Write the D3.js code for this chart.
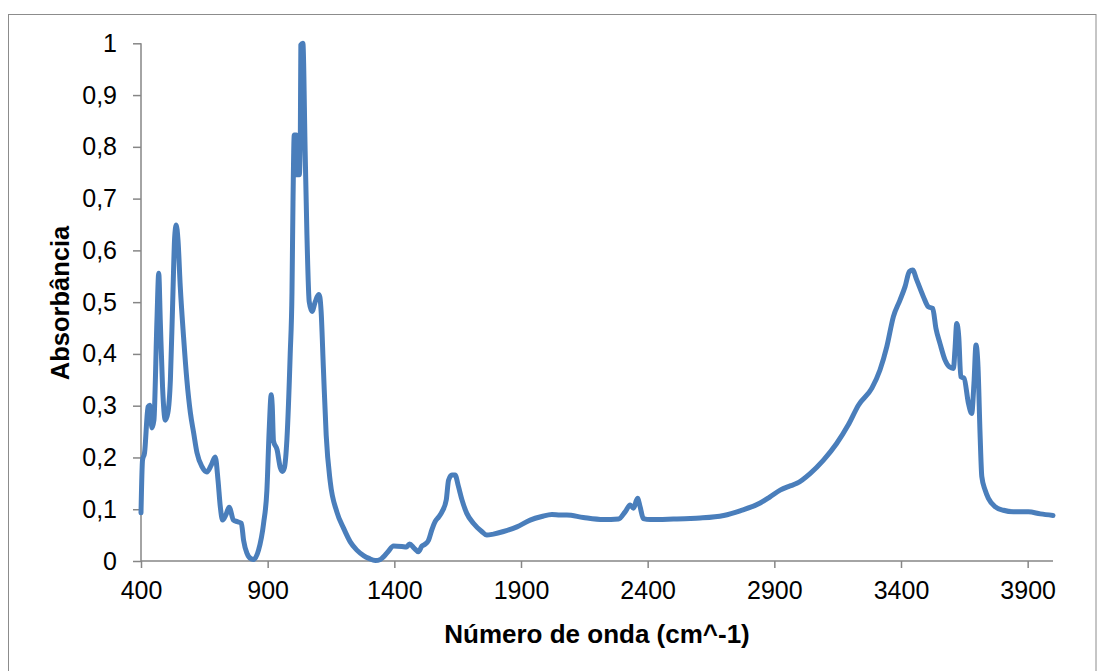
<!DOCTYPE html>
<html>
<head>
<meta charset="utf-8">
<script src="https://cdn.jsdelivr.net/npm/d3@7"></script>
<style>
  html, body { margin: 0; padding: 0; background: #ffffff; }
  svg { display: block; }
  text { font-family: "Liberation Sans", Arial, sans-serif; fill: #000; }
</style>
</head>
<body>
<svg id="chart" width="1097" height="671"></svg>
<script>
// FTIR spectrum: wavenumber (cm^-1) and absorbance
const wavenumber = [
  400, 406, 414, 428, 435, 443, 451, 463, 470, 476, 485, 496, 506, 516, 525, 533, 539, 546, 555, 568,
  581, 595, 608, 621, 641, 660, 677, 693, 704, 713, 722, 735, 748, 765, 780, 796, 805, 818, 835, 845,
  864, 884, 897, 906, 914, 918, 923, 937, 950, 958, 966, 976, 989, 996, 1000, 1005, 1013, 1016, 1025, 1029,
  1031, 1039, 1048, 1055, 1064, 1075, 1088, 1101, 1106, 1111, 1120, 1131, 1147, 1173, 1200, 1226, 1252, 1280, 1300, 1325,
  1345, 1357, 1375, 1397, 1430, 1448, 1460, 1478, 1495, 1509, 1520, 1535, 1548, 1561, 1575, 1588, 1605, 1614, 1627, 1640,
  1653, 1667, 1686, 1712, 1745, 1765, 1791, 1831, 1884, 1936, 1982, 2022, 2055, 2081, 2146, 2225, 2285, 2311, 2331, 2344,
  2360, 2370, 2383, 2410, 2502, 2568, 2607, 2700, 2765, 2844, 2883, 2923, 2962, 2989, 3041, 3094, 3146, 3192, 3232, 3285,
  3317, 3344, 3370, 3396, 3416, 3433, 3446, 3462, 3488, 3508, 3525, 3538, 3554, 3574, 3591, 3607, 3613, 3620, 3628, 3636,
  3649, 3666, 3679, 3688, 3696, 3704, 3712, 3719, 3732, 3745, 3771, 3804, 3844, 3903, 3950, 4000
];
const absorbance = [
  0.093, 0.195, 0.209, 0.298, 0.301, 0.257, 0.272, 0.466, 0.556, 0.466, 0.337, 0.272, 0.286, 0.350, 0.498, 0.626, 0.649, 0.620, 0.530, 0.433,
  0.350, 0.286, 0.247, 0.209, 0.182, 0.172, 0.185, 0.201, 0.156, 0.105, 0.079, 0.089, 0.104, 0.079, 0.076, 0.073, 0.040, 0.015, 0.004, 0.003,
  0.021, 0.073, 0.137, 0.253, 0.321, 0.300, 0.232, 0.215, 0.180, 0.173, 0.180, 0.235, 0.400, 0.520, 0.694, 0.823, 0.823, 0.746, 0.746, 0.823,
  0.997, 1.000, 0.791, 0.630, 0.501, 0.482, 0.501, 0.515, 0.510, 0.482, 0.372, 0.243, 0.153, 0.095, 0.063, 0.037, 0.021, 0.010, 0.005, 0.001,
  0.003, 0.008, 0.018, 0.029, 0.028, 0.027, 0.033, 0.025, 0.018, 0.029, 0.032, 0.040, 0.060, 0.076, 0.085, 0.095, 0.118, 0.156, 0.166, 0.166,
  0.144, 0.118, 0.092, 0.073, 0.057, 0.050, 0.052, 0.057, 0.066, 0.079, 0.086, 0.090, 0.089, 0.089, 0.084, 0.080, 0.081, 0.095, 0.108, 0.102,
  0.121, 0.105, 0.082, 0.080, 0.081, 0.082, 0.083, 0.088, 0.097, 0.112, 0.124, 0.137, 0.145, 0.150, 0.169, 0.195, 0.227, 0.263, 0.301, 0.334,
  0.369, 0.414, 0.472, 0.504, 0.530, 0.559, 0.562, 0.543, 0.511, 0.491, 0.488, 0.449, 0.420, 0.388, 0.375, 0.372, 0.408, 0.459, 0.433, 0.356,
  0.353, 0.305, 0.285, 0.343, 0.417, 0.375, 0.247, 0.163, 0.137, 0.121, 0.105, 0.098, 0.095, 0.095, 0.091, 0.088
];
const xTicks = [400, 900, 1400, 1900, 2400, 2900, 3400, 3900];
const yTicks = [0, 0.1, 0.2, 0.3, 0.4, 0.5, 0.6, 0.7, 0.8, 0.9, 1];
const xTitle = "Número de onda (cm^-1)";
const yTitle = "Absorbância";

const svg = d3.select("#chart");
const plot = { left: 141, right: 1053, top: 43.3, bottom: 561 };

// Outer chart frame
svg.append("rect")
  .attr("x", 8.5).attr("y", 14.5)
  .attr("width", 1087.5).attr("height", 670)
  .attr("fill", "#ffffff")
  .attr("stroke", "#8c8c8c").attr("stroke-width", 1);

const x = d3.scaleLinear().domain([400, 4000]).range([plot.left, plot.right]);
const y = d3.scaleLinear().domain([0, 1]).range([plot.bottom, plot.top]);

const fmtY = v => d3.format("~g")(+v.toFixed(1)).replace(".", ",");

// Y axis
const yAxis = svg.append("g")
  .attr("transform", `translate(${plot.left},0)`)
  .call(d3.axisLeft(y).tickValues(yTicks).tickFormat(fmtY).tickSize(8).tickPadding(16));
// X axis
const xAxis = svg.append("g")
  .attr("transform", `translate(0,${plot.bottom})`)
  .call(d3.axisBottom(x).tickValues(xTicks).tickFormat(d3.format("d")).tickSize(7).tickPadding(13));

[yAxis, xAxis].forEach(g => {
  g.select(".domain").attr("stroke", "#868686").attr("stroke-width", 1.5);
  g.selectAll(".tick line").attr("stroke", "#868686").attr("stroke-width", 1.5);
  g.selectAll(".tick text")
    .attr("font-family", "'Liberation Sans', Arial, sans-serif")
    .attr("font-size", 25)
    .attr("fill", "#000");
});
// plain axis lines without outer tick caps
yAxis.select(".domain").attr("d", `M0,${plot.bottom}V${plot.top}`);
xAxis.select(".domain").attr("d", `M${plot.left},0H${plot.right}`);

// Spectrum line
const pts = wavenumber.map((w, i) => [w, absorbance[i]]);
const line = d3.line()
  .x(d => x(d[0]))
  .y(d => y(d[1]))
  .curve(d3.curveMonotoneX);

svg.append("path")
  .datum(pts)
  .attr("d", line)
  .attr("fill", "none")
  .attr("stroke", "#4a7ebb")
  .attr("stroke-width", 5)
  .attr("stroke-linejoin", "round")
  .attr("stroke-linecap", "round");

// Axis titles
svg.append("text")
  .attr("x", 597).attr("y", 643)
  .attr("text-anchor", "middle")
  .attr("font-size", 26).attr("font-weight", "bold")
  .text(xTitle);

svg.append("text")
  .attr("transform", "translate(69,303) rotate(-90)")
  .attr("text-anchor", "middle")
  .attr("font-size", 25.5).attr("font-weight", "bold")
  .text(yTitle);
</script>
</body>
</html>
